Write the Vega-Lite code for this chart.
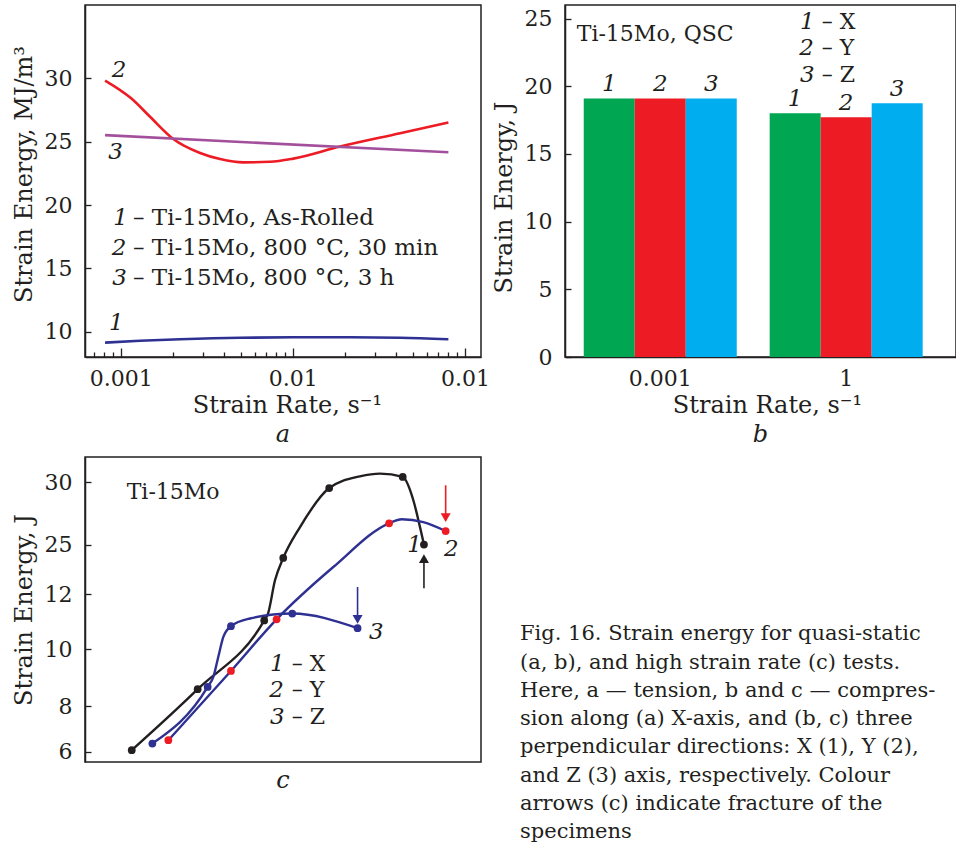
{
"$schema": "https://vega.github.io/schema/vega-lite/v6.json",
"autosize": {"type": "none"},
"padding": {"left": 85, "top": 5, "right": 871, "bottom": 848},
"background": "white",
"columns": 2,
"spacing": {"row": 100, "column": 84},
"bounds": "flush",
"resolve": {"scale": {"color": "independent", "stroke": "independent", "shape": "independent"}},
"config": {
  "font": "DejaVu Serif",
  "view": {"stroke": "#231f20", "strokeWidth": 1.5},
  "axis": {"labelFont": "DejaVu Serif", "labelFontSize": 22, "labelColor": "#231f20", "titleFont": "DejaVu Serif", "titleFontSize": 24, "titleFontWeight": "normal", "titleColor": "#231f20", "domainColor": "#231f20", "domainWidth": 1.5, "tickColor": "#231f20", "tickWidth": 1.3, "grid": false, "labelFlush": false, "labelOverlap": false},
  "title": {"font": "DejaVu Serif", "fontSize": 24, "fontStyle": "italic", "fontWeight": "normal", "color": "#231f20", "orient": "bottom", "offset": 6, "anchor": "middle", "frame": "group"},
  "text": {"font": "DejaVu Serif", "color": "#231f20", "fontSize": 22}
},
"concat": [
{
  "width": 396, "height": 352,
  "title": {"text": "a"},
  "encoding": {
    "y": {"field": "energy", "type": "quantitative", "scale": {"domain": [8.03, 35.75], "nice": false, "zero": false},
          "axis": {"values": [10, 15, 20, 25, 30], "tickSize": -6, "labelPadding": 19, "title": "Strain Energy, MJ/m³", "titlePadding": 8, "titleY": 169}}
  },
  "layer": [
    {
      "data": {"values": [
        {"series":"1","rate":0.000811,"energy":9.16},
        {"series":"1","rate":0.001294,"energy":9.31},
        {"series":"1","rate":0.00221,"energy":9.43},
        {"series":"1","rate":0.00493,"energy":9.55},
        {"series":"1","rate":0.01,"energy":9.58},
        {"series":"1","rate":0.0215,"energy":9.58},
        {"series":"1","rate":0.042,"energy":9.55},
        {"series":"1","rate":0.0801,"energy":9.43},
        {"series":"2","rate":0.000811,"energy":29.8},
        {"series":"2","rate":0.00115,"energy":28.4},
        {"series":"2","rate":0.00148,"energy":26.95},
        {"series":"2","rate":0.00202,"energy":25.2},
        {"series":"2","rate":0.00289,"energy":24.1},
        {"series":"2","rate":0.00378,"energy":23.62},
        {"series":"2","rate":0.00516,"energy":23.36},
        {"series":"2","rate":0.00737,"energy":23.4},
        {"series":"2","rate":0.01007,"energy":23.65},
        {"series":"2","rate":0.0188,"energy":24.6},
        {"series":"2","rate":0.042,"energy":25.65},
        {"series":"2","rate":0.0801,"energy":26.5},
        {"series":"3","rate":0.000811,"energy":25.5},
        {"series":"3","rate":0.0801,"energy":24.15}
      ]},
      "mark": {"type": "line", "interpolate": "monotone", "strokeWidth": 2.6},
      "encoding": {
        "x": {"field": "rate", "type": "quantitative", "scale": {"type": "log", "domain": [0.00062, 0.1239], "nice": false},
              "axis": {"orient": "bottom", "values": [0.001, 0.01, 0.1], "labelExpr": "datum.value < 0.005 ? '0.001' : '0.01'", "tickSize": -9, "labelPadding": 20, "title": "Strain Rate, s⁻¹", "titlePadding": 4, "titleX": 202}},
        "stroke": {"field": "series", "type": "nominal", "scale": {"domain": ["1","2","3"], "range": ["#2e3192", "#ed1c24", "#a3509c"]}, "legend": null}
      }
    },
    {
      "data": {"values": [
        {"rate":0.000887,"energy":30.6,"t":"2"},
        {"rate":0.000847,"energy":24.2,"t":"3"},
        {"rate":0.000855,"energy":10.7,"t":"1"},
        {"rate":0.000906,"energy":18.95,"t":"1"},
        {"rate":0.000887,"energy":16.59,"t":"2"},
        {"rate":0.000894,"energy":14.23,"t":"3"}
      ]},
      "mark": {"type": "text", "align": "left", "baseline": "middle", "fontStyle": "italic", "fontSize": 23},
      "encoding": {
        "x": {"field": "rate", "type": "quantitative", "axis": {"orient": "bottom", "values": [0.0007,0.0008,0.0009,0.002,0.003,0.004,0.005,0.006,0.007,0.008,0.009,0.02,0.03,0.04,0.05,0.06,0.07,0.08,0.09], "tickSize": -5, "labels": false, "domain": false, "title": null}},
        "text": {"field": "t"}
      }
    },
    {
      "data": {"values": [
        {"rate":0.001178,"energy":18.95,"t":"– Ti-15Mo, As-Rolled"},
        {"rate":0.001178,"energy":16.59,"t":"– Ti-15Mo, 800 °C, 30 min"},
        {"rate":0.001178,"energy":14.23,"t":"– Ti-15Mo, 800 °C, 3 h"}
      ]},
      "mark": {"type": "text", "align": "left", "baseline": "middle", "fontSize": 23},
      "encoding": {
        "x": {"field": "rate", "type": "quantitative", "axis": null},
        "text": {"field": "t"}
      }
    }
  ],
  "resolve": {"axis": {"x": "independent"}}
},
{
  "width": 391, "height": 352,
  "title": {"text": "b"},
  "encoding": {
    "y": {"field": "energy", "type": "quantitative", "scale": {"domain": [0, 26], "nice": false},
          "axis": {"values": [0, 5, 10, 15, 20, 25], "tickSize": -6, "labelPadding": 19, "title": "Strain Energy, J", "titlePadding": 8, "titleY": 192}}
  },
  "layer": [
    {
      "data": {"values": [
        {"rate":"0.001","dir":"1","energy":19.1},
        {"rate":"0.001","dir":"2","energy":19.1},
        {"rate":"0.001","dir":"3","energy":19.1},
        {"rate":"1","dir":"1","energy":18.0},
        {"rate":"1","dir":"2","energy":17.7},
        {"rate":"1","dir":"3","energy":18.75}
      ]},
      "encoding": {
        "x": {"field": "rate", "type": "nominal", "sort": ["0.001","1"], "scale": {"paddingInner": 0.177, "paddingOuter": 0.14, "align": 0.36},
              "axis": {"labelAngle": 0, "tickSize": -8, "labelPadding": 19, "title": "Strain Rate, s⁻¹", "titlePadding": 4, "titleX": 202}},
        "xOffset": {"field": "dir", "type": "nominal", "scale": {"paddingInner": 0, "paddingOuter": 0}}
      },
      "layer": [
        {"mark": {"type": "bar"}, "encoding": {"color": {"field": "dir", "type": "nominal", "scale": {"domain": ["1","2","3"], "range": ["#00a651", "#ed1c24", "#00aeef"]}, "legend": null}}},
        {"mark": {"type": "text", "baseline": "alphabetic", "dy": -7, "fontStyle": "italic", "fontSize": 23}, "encoding": {"text": {"field": "dir"}}}
      ]
    },
    {
      "data": {"values": [
        {"px":0.601,"energy":24.76,"t":"1"},
        {"px":0.599,"energy":22.8,"t":"2"},
        {"px":0.601,"energy":20.83,"t":"3"}
      ]},
      "mark": {"type": "text", "align": "left", "baseline": "middle", "fontStyle": "italic", "fontSize": 23},
      "encoding": {
        "x": {"field": "px", "type": "quantitative", "scale": {"domain": [0, 1]}, "axis": null},
        "text": {"field": "t"}
      }
    },
    {
      "data": {"values": [
        {"px":0.03,"energy":23.83,"t":"Ti-15Mo, QSC"},
        {"px":0.6565,"energy":24.76,"t":"– X"},
        {"px":0.6565,"energy":22.8,"t":"– Y"},
        {"px":0.6565,"energy":20.83,"t":"– Z"}
      ]},
      "mark": {"type": "text", "align": "left", "baseline": "middle", "fontSize": 22},
      "encoding": {
        "x": {"field": "px", "type": "quantitative", "scale": {"domain": [0, 1]}, "axis": null},
        "text": {"field": "t"}
      }
    }
  ],
  "resolve": {"scale": {"x": "independent"}}
},
{
  "width": 396, "height": 305,
  "title": {"text": "c"},
  "encoding": {
    "y": {"field": "energy", "type": "quantitative", "scale": {"domain": [5.55, 6, 8, 10, 12, 25, 30, 32.03], "range": [305, 294.8, 249.3, 192.3, 137.3, 87.6, 25.3, 0], "nice": false, "zero": false},
          "axis": {"values": [6, 8, 10, 12, 25, 30], "tickSize": -6, "labelPadding": 19, "title": "Strain Energy, J", "titlePadding": 8}}
  },
  "layer": [
    {
      "data": {"values": [
        {"series":"1","rate":1290,"energy":6.07},
        {"series":"1","rate":1706,"energy":8.6},
        {"series":"1","rate":2126,"energy":11.05},
        {"series":"1","rate":2150,"energy":11.3},
        {"series":"1","rate":2194,"energy":15.66},
        {"series":"1","rate":2246,"energy":21.5},
        {"series":"1","rate":2352,"energy":26.41},
        {"series":"1","rate":2536,"energy":29.54},
        {"series":"1","rate":2730,"energy":30.48},
        {"series":"1","rate":2857,"energy":30.7},
        {"series":"1","rate":3000,"energy":30.43},
        {"series":"1","rate":3067,"energy":28.56},
        {"series":"1","rate":3109,"energy":26.41},
        {"series":"1","rate":3134,"energy":25.0},
        {"series":"2","rate":1521,"energy":6.51},
        {"series":"2","rate":1916,"energy":9.24},
        {"series":"2","rate":2204,"energy":11.09},
        {"series":"2","rate":2562,"energy":19.14},
        {"series":"2","rate":2914,"energy":26.71},
        {"series":"2","rate":2994,"energy":27.03},
        {"series":"2","rate":3130,"energy":26.81},
        {"series":"2","rate":3271,"energy":26.09},
        {"series":"3","rate":1420,"energy":6.36},
        {"series":"3","rate":1769,"energy":8.68},
        {"series":"3","rate":1805,"energy":9.03},
        {"series":"3","rate":1836,"energy":9.73},
        {"series":"3","rate":1868,"energy":10.45},
        {"series":"3","rate":1916,"energy":10.84},
        {"series":"3","rate":2036,"energy":11.12},
        {"series":"3","rate":2303,"energy":11.3},
        {"series":"3","rate":2715,"energy":10.77}
      ]},
      "mark": {"type": "line", "interpolate": "monotone", "strokeWidth": 2.4},
      "encoding": {
        "x": {"field": "rate", "type": "quantitative", "scale": {"domain": [995, 3494], "nice": false, "zero": false},
              "axis": {"values": [1500, 2000, 2500, 3000], "format": "d", "tickSize": -8, "labelPadding": 18, "title": "Strain Rate, s⁻¹", "titlePadding": 4, "titleX": 202}},
        "stroke": {"field": "series", "type": "nominal", "scale": {"domain": ["1","2","3"], "range": ["#231f20", "#2e3192", "#2e3192"]}, "legend": null}
      }
    },
    {
      "data": {"values": [
        {"series":"1","rate":1290,"energy":6.07},
        {"series":"1","rate":1706,"energy":8.6},
        {"series":"1","rate":2126,"energy":11.05},
        {"series":"1","rate":2246,"energy":21.5},
        {"series":"1","rate":2536,"energy":29.54},
        {"series":"1","rate":3000,"energy":30.43},
        {"series":"1","rate":3134,"energy":25.0},
        {"series":"2","rate":1521,"energy":6.51},
        {"series":"2","rate":1916,"energy":9.24},
        {"series":"2","rate":2204,"energy":11.09},
        {"series":"2","rate":2914,"energy":26.71},
        {"series":"2","rate":3271,"energy":26.09},
        {"series":"3","rate":1420,"energy":6.36},
        {"series":"3","rate":1769,"energy":8.68},
        {"series":"3","rate":1916,"energy":10.84},
        {"series":"3","rate":2303,"energy":11.3},
        {"series":"3","rate":2715,"energy":10.77}
      ]},
      "mark": {"type": "circle", "size": 60, "opacity": 1},
      "encoding": {
        "x": {"field": "rate", "type": "quantitative", "axis": null},
        "color": {"field": "series", "type": "nominal", "scale": {"domain": ["1","2","3"], "range": ["#231f20", "#ed1c24", "#2e3192"]}, "legend": null}
      }
    },
    {
      "data": {"values": [
        {"series":"1","rate":3134,"energy":13.57,"energy2":21.34},
        {"series":"2","rate":3271,"energy":29.76,"energy2":27.16},
        {"series":"3","rate":2715,"energy":13.91,"energy2":11.09}
      ]},
      "mark": {"type": "rule", "strokeWidth": 1.6},
      "encoding": {
        "x": {"field": "rate", "type": "quantitative", "axis": null},
        "y2": {"field": "energy2"},
        "color": {"field": "series", "type": "nominal", "legend": null}
      }
    },
    {
      "data": {"values": [
        {"series":"1","rate":3134,"energy":21.34,"dir":"up"},
        {"series":"2","rate":3271,"energy":27.16,"dir":"down"},
        {"series":"3","rate":2715,"energy":11.09,"dir":"down"}
      ]},
      "mark": {"type": "point", "filled": true, "size": 100, "opacity": 1},
      "encoding": {
        "x": {"field": "rate", "type": "quantitative", "axis": null},
        "shape": {"field": "dir", "type": "nominal", "scale": {"domain": ["up","down"], "range": ["triangle-up","triangle-down"]}, "legend": null},
        "color": {"field": "series", "type": "nominal", "legend": null}
      }
    },
    {
      "data": {"values": [
        {"rate":3029,"energy":25.0,"t":"1"},
        {"rate":3261,"energy":23.95,"t":"2"},
        {"rate":2788,"energy":10.63,"t":"3"},
        {"rate":2163,"energy":9.5,"t":"1"},
        {"rate":2158,"energy":8.56,"t":"2"},
        {"rate":2163,"energy":7.53,"t":"3"}
      ]},
      "mark": {"type": "text", "align": "left", "baseline": "middle", "fontStyle": "italic", "fontSize": 23},
      "encoding": {
        "x": {"field": "rate", "type": "quantitative", "axis": null},
        "text": {"field": "t"}
      }
    },
    {
      "data": {"values": [
        {"rate":1258,"energy":29.22,"t":"Ti-15Mo"},
        {"rate":2300,"energy":9.5,"t":"– X"},
        {"rate":2300,"energy":8.56,"t":"– Y"},
        {"rate":2300,"energy":7.53,"t":"– Z"}
      ]},
      "mark": {"type": "text", "align": "left", "baseline": "middle", "fontSize": 22},
      "encoding": {
        "x": {"field": "rate", "type": "quantitative", "axis": null},
        "text": {"field": "t"}
      }
    }
  ]
},
{
  "width": 391, "height": 381,
  "view": {"stroke": null},
  "data": {"values": [
    {"line":1,"text":"Fig. 16. Strain energy for quasi-static"},
    {"line":2,"text":"(a, b), and high strain rate (c) tests."},
    {"line":3,"text":"Here, a — tension, b and c — compres-"},
    {"line":4,"text":"sion along (a) X-axis, and (b, c) three"},
    {"line":5,"text":"perpendicular directions: X (1), Y (2),"},
    {"line":6,"text":"and Z (3) axis, respectively. Colour"},
    {"line":7,"text":"arrows (c) indicate fracture of the"},
    {"line":8,"text":"specimens"}
  ]},
  "mark": {"type": "text", "align": "left", "baseline": "alphabetic", "fontSize": 21, "dx": -45},
  "encoding": {
    "y": {"field": "line", "type": "quantitative", "axis": null, "scale": {"domain": [-5.5, 8], "reverse": true, "nice": false, "zero": false}},
    "x": {"value": 0},
    "text": {"field": "text"}
  }
}
]
}
